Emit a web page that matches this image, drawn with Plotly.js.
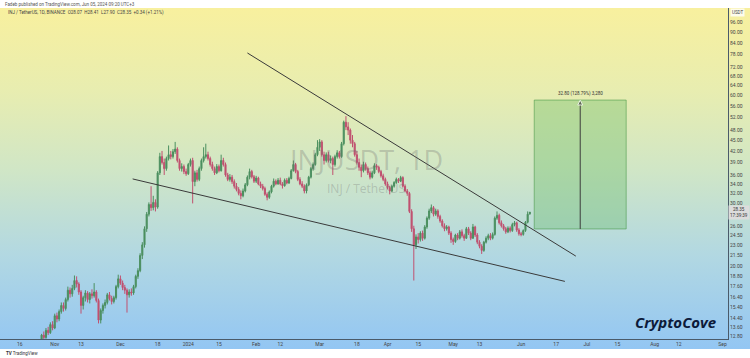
<!DOCTYPE html>
<html><head><meta charset="utf-8">
<script src="https://cdn.plot.ly/plotly-3.0.1.min.js"></script>
<style>
html,body{margin:0;padding:0;background:#fff;}
#chart{width:750px;height:358px;background:linear-gradient(to bottom,#ffffff 0px,#ffffff 8px,#f8f09e 8px,#e8edb0 90px,#d0e6c6 170px,#b2d8e2 255px,#93c6f3 349px,#ffffff 349px);}
</style></head><body><div id="chart"></div><script>
// Daily INJ/USDT candles, first candle on 2023-10-26, one per day
const firstDay = [2023, 9, 26];
const openP = [12.4,12.9,12.7,13.3,13.1,13.8,
13.5,14.6,14.3,15.0,15.6,15.3,16.2,17.2,16.8,17.4,18.3,17.9,17.0,15.6,16.4,16.9,16.2,16.8,16.6,17.0,
16.1,14.2,15.1,15.6,15.9,16.7,16.3,16.0,16.4,17.6,18.5,18.0,17.5,17.2,16.7,17.0,16.9,17.6,18.8,19.5,
21.5,23.0,25.5,28.0,29.8,29.2,30.2,29.3,36.5,40.5,39.0,37.5,40.0,41.0,40.5,41.8,42.5,39.5,37.5,38.0,
36.8,36.3,38.5,39.5,34.5,36.5,35.0,37.5,39.5,40.5,41.0,40.0,38.5,37.5,36.5,38.0,37.0,39.5,38.5,36.0,
35.0,35.5,34.5,33.5,32.8,32.0,31.5,32.5,33.8,35.5,36.8,35.6,34.6,35.3,34.0,33.5,33.0,31.8,31.2,32.3,
33.5,34.6,34.0,34.8,34.0,33.6,34.8,34.2,35.2,37.0,38.5,36.8,35.0,34.0,33.5,32.5,33.8,35.5,37.5,38.5,
41.0,43.0,44.5,41.0,39.5,41.0,39.5,40.0,38.5,40.5,41.5,40.5,44.0,50.5,49.0,48.0,45.0,44.0,41.0,39.0,
37.8,37.0,38.5,37.5,36.5,35.5,36.5,38.2,37.8,36.8,35.8,35.0,34.0,33.2,32.5,33.5,34.3,35.0,34.6,35.4,
33.5,32.5,32.0,28.5,25.5,23.0,24.2,23.8,24.8,24.0,25.8,27.3,28.6,29.2,28.0,28.6,27.6,26.8,26.0,25.5,
25.8,24.8,23.8,23.5,24.5,24.0,25.0,24.4,24.0,25.5,24.8,24.0,25.8,24.5,23.4,22.8,22.2,23.4,24.0,24.4,
24.0,24.6,27.3,27.8,26.5,26.0,25.5,25.0,25.6,25.2,26.2,26.5,25.3,24.7,24.6,25.2,26.6,28.07];
const highP = [13.0,13.2,13.5,13.6,14.0,14.1,
14.8,14.9,15.2,15.9,15.9,16.4,17.6,17.5,17.8,18.9,18.8,18.1,17.2,16.6,17.2,17.1,17.0,17.3,18.0,17.2,
16.3,15.3,15.8,16.2,16.9,17.0,16.6,16.6,17.8,19.0,18.9,18.3,17.8,17.4,17.3,17.4,17.8,19.0,19.8,21.8,
23.4,25.9,28.4,30.2,33.5,31.5,30.8,36.9,41.5,42.0,40.0,40.5,43.5,42.0,42.5,44.5,43.0,40.0,38.8,38.5,
37.5,38.9,40.0,40.2,37.0,37.2,38.0,40.0,43.0,44.0,41.8,40.5,39.2,38.0,38.6,38.5,41.0,40.2,39.0,36.5,
36.2,36.0,35.0,34.2,33.3,32.6,33.0,34.2,35.9,37.5,37.2,36.0,35.8,35.6,34.5,34.0,33.4,32.2,32.6,33.8,
35.2,35.0,35.3,35.4,34.4,35.2,35.3,35.6,37.4,39.5,38.9,37.2,35.5,34.6,33.9,34.1,35.8,37.9,39.0,41.5,
45.0,45.3,45.0,41.8,41.6,41.8,40.8,40.5,41.0,42.2,42.0,44.5,51.0,52.5,50.5,48.5,46.5,44.5,42.0,40.0,
38.5,39.2,39.0,38.0,37.0,37.0,38.8,38.6,38.2,37.2,36.3,35.4,34.5,33.6,33.8,34.6,35.4,35.3,35.8,35.7,
33.9,32.9,32.3,28.9,26.0,24.6,24.8,25.1,25.2,26.1,27.6,29.0,29.8,29.5,29.0,28.9,27.9,27.1,26.4,26.1,
26.0,25.1,24.1,24.7,24.8,25.3,25.4,24.7,25.8,25.8,25.1,26.3,26.0,24.8,23.7,23.1,23.6,24.3,24.7,24.8,
24.9,27.6,28.5,28.1,26.9,26.3,25.8,25.9,25.9,26.5,26.8,26.7,25.6,25.0,25.4,26.8,28.5,28.41];
const lowP = [12.2,12.5,12.6,12.9,13.0,13.3,
13.4,14.0,14.1,14.8,15.0,15.1,16.0,16.4,16.5,17.2,17.5,16.7,14.8,15.2,16.0,15.9,15.8,16.3,16.4,15.9,
13.9,13.9,14.8,15.3,15.7,16.1,15.7,15.8,16.2,17.4,17.8,17.2,16.8,14.9,16.4,16.6,16.7,17.4,18.5,19.3,
21.0,22.6,25.0,27.6,28.6,28.7,28.5,29.0,36.0,38.5,36.0,37.0,39.5,39.8,40.0,41.2,39.0,37.0,36.8,36.2,
35.8,36.0,38.0,30.0,33.5,34.5,34.6,37.0,39.0,40.0,39.5,38.0,37.0,36.0,36.2,36.6,36.8,38.0,35.6,34.6,
34.5,34.0,33.0,32.4,31.6,30.8,31.2,32.2,33.5,35.0,35.2,34.2,34.2,33.7,33.1,32.6,31.5,30.6,30.9,32.0,
33.2,33.7,33.8,33.7,33.0,33.4,33.9,34.0,35.0,36.8,36.4,34.6,33.7,33.1,32.0,32.0,33.5,35.2,37.0,38.2,
40.6,42.0,40.5,38.5,39.0,39.0,38.8,36.0,38.0,40.0,40.0,40.2,43.5,48.0,46.5,44.0,43.0,40.5,38.5,37.0,
35.5,36.6,37.0,36.0,35.0,35.2,36.2,37.2,36.4,35.4,34.6,33.6,32.8,31.8,32.2,33.2,34.0,34.2,34.4,33.2,
32.2,31.5,28.2,25.0,18.3,22.4,23.2,23.5,23.6,23.8,25.5,27.0,28.2,27.6,27.7,27.2,26.5,25.7,25.1,25.2,
24.5,23.3,23.0,23.3,23.7,23.8,24.1,23.6,23.9,24.5,23.7,23.9,24.2,23.1,22.5,21.7,22.0,23.2,23.7,23.7,
23.8,24.4,27.0,26.2,25.7,25.2,24.7,24.8,24.9,25.0,25.9,25.0,24.4,24.3,24.4,25.0,26.4,27.90];
const closeP = [12.9,12.7,13.3,13.1,13.8,13.5,
14.6,14.3,15.0,15.6,15.3,16.2,17.2,16.8,17.4,18.3,17.9,17.0,15.6,16.4,16.9,16.2,16.8,16.6,17.0,16.1,
14.2,15.1,15.6,15.9,16.7,16.3,16.0,16.4,17.6,18.5,18.0,17.5,17.2,16.7,17.0,16.9,17.6,18.8,19.5,21.5,
23.0,25.5,28.0,29.8,29.2,30.2,29.3,36.5,40.5,39.0,37.5,40.0,41.0,40.5,41.8,42.5,39.5,37.5,38.0,36.8,
36.3,38.5,39.5,34.5,36.5,35.0,37.5,39.5,40.5,41.0,40.0,38.5,37.5,36.5,38.0,37.0,39.5,38.5,36.0,35.0,
35.5,34.5,33.5,32.8,32.0,31.5,32.5,33.8,35.5,36.8,35.6,34.6,35.3,34.0,33.5,33.0,31.8,31.2,32.3,33.5,
34.6,34.0,34.8,34.0,33.6,34.8,34.2,35.2,37.0,38.5,36.8,35.0,34.0,33.5,32.5,33.8,35.5,37.5,38.5,41.0,
43.0,44.5,41.0,39.5,41.0,39.5,40.0,38.5,40.5,41.5,40.5,44.0,50.5,49.0,48.0,45.0,44.0,41.0,39.0,37.8,
37.0,38.5,37.5,36.5,35.5,36.5,38.2,37.8,36.8,35.8,35.0,34.0,33.2,32.5,33.5,34.3,35.0,34.6,35.4,33.5,
32.5,32.0,28.5,25.5,23.0,24.2,23.8,24.8,24.0,25.8,27.3,28.6,29.2,28.0,28.6,27.6,26.8,26.0,25.5,25.8,
24.8,23.8,23.5,24.5,24.0,25.0,24.4,24.0,25.5,24.8,24.0,25.8,24.5,23.4,22.8,22.2,23.4,24.0,24.4,24.0,
24.6,27.3,27.8,26.5,26.0,25.5,25.0,25.6,25.2,26.2,26.5,25.3,24.7,24.6,25.2,26.6,28.0,28.35];

// Drawings
const upperLineDates = ['2024-01-28', '2024-06-26'];
const upperLinePrices = [78.7, 21.4];
const lowerLineDates = ['2023-12-06 14:00', '2024-06-21'];
const lowerLinePrices = [35.1, 18.2];
const targetDates = ['2024-06-07', '2024-07-19'];
const targetPrices = [25.47, 58.2];
const targetMidDate = '2024-06-28';
const targetLabel = '32.80 (128.79%) 3,280';

// Axes
const xTickDates = ['2023-10-16','2023-11-01','2023-11-13','2023-12-01','2023-12-18','2024-01-01','2024-01-15','2024-02-01','2024-02-12','2024-03-01','2024-03-18','2024-04-01','2024-04-15','2024-05-01','2024-05-13','2024-06-01','2024-06-17','2024-07-01','2024-07-15','2024-08-01','2024-08-12','2024-09-01'];
const xTickLabels = ['16','Nov','13','Dec','18','2024','15','Feb','12','Mar','18','Apr','15','May','13','Jun','17','Jul','15','Aug','12','Sep'];
const yTickValues = [96,90,84,78,72,68,64,60,56,52,48,45,42,39,36,34,32,30,26,24.5,23,21.5,20,18.8,17.6,16.4,15.4,14.4,13.6,12.8];
const lastPrice = 28.35;

const dates = openP.map((_, i) => new Date(Date.UTC(firstDay[0], firstDay[1], firstDay[2] + i)).toISOString().slice(0, 10));

const traces = [
  {type:'candlestick', x:dates, open:openP, high:highP, low:lowP, close:closeP,
   increasing:{line:{color:'#4b8f5f', width:1}, fillcolor:'#4b8f5f'},
   decreasing:{line:{color:'#c0506f', width:1}, fillcolor:'#c0506f'},
   whiskerwidth:0, hoverinfo:'none'},
  {type:'scatter', mode:'lines', x:upperLineDates, y:upperLinePrices, line:{color:'#3a3a3a', width:1}, hoverinfo:'none'},
  {type:'scatter', mode:'lines', x:lowerLineDates, y:lowerLinePrices, line:{color:'#3a3a3a', width:1}, hoverinfo:'none'},
  {type:'scatter', mode:'lines', x:[targetDates[0], targetDates[1], targetDates[1], targetDates[0], targetDates[0]],
   y:[targetPrices[0], targetPrices[0], targetPrices[1], targetPrices[1], targetPrices[0]],
   fill:'toself', fillcolor:'rgba(90,180,90,0.32)', line:{color:'rgba(70,150,70,0.55)', width:1}, hoverinfo:'none'},
  {type:'scatter', mode:'lines+markers', x:[targetMidDate, targetMidDate], y:targetPrices,
   line:{color:'#3a3a3a', width:1}, marker:{symbol:['circle','arrow-up'], size:[0,5], color:'#3a3a3a'}, hoverinfo:'none'}
];

const plotH = 358 - 8 - 19;
const layout = {
  width:750, height:358,
  margin:{l:0, r:22, t:8, b:19, pad:0},
  paper_bgcolor:'rgba(0,0,0,0)', plot_bgcolor:'rgba(0,0,0,0)',
  showlegend:false,
  font:{family:'Roboto, "Open Sans", sans-serif'},
  xaxis:{type:'date', range:['2023-10-07', '2024-09-03 12:00'], rangeslider:{visible:false},
    tickmode:'array', tickvals:xTickDates, ticktext:xTickLabels, tickfont:{size:5, color:'#444'},
    showgrid:false, zeroline:false, showline:true, linecolor:'#4a5a6a', linewidth:1, ticks:'', fixedrange:true},
  yaxis:{type:'log', side:'right', range:[Math.log10(12.58), Math.log10(105)],
    tickmode:'array', tickvals:yTickValues, ticktext:yTickValues.map(v => v.toFixed(2)), tickfont:{size:5, color:'#444'},
    showgrid:false, zeroline:false, showline:true, linecolor:'#4a5a6a', linewidth:1, ticks:'', fixedrange:true},
  annotations:[
    {xref:'paper', yref:'paper', x:0.004, y:1 + 4/plotH, xanchor:'left', yanchor:'middle', showarrow:false,
     text:'Fadeb published on TradingView.com, Jun 05, 2024 09:20 UTC+3', font:{size:4.5, color:'#555'}},
    {xref:'paper', yref:'paper', x:0.008, y:1 - 5/plotH, xanchor:'left', yanchor:'middle', showarrow:false,
     text:'INJ / TetherUS, 1D, BINANCE  O28.07  H28.41  L27.90  C28.35  +0.34 (+1.21%)', font:{size:4.5, color:'#444'}},
    {xref:'paper', yref:'paper', x:366/728, y:1 - 152/plotH, xanchor:'center', yanchor:'middle', showarrow:false,
     text:'INJUSDT, 1D', font:{size:27, color:'rgba(110,110,110,0.3)', family:'"Open Sans", sans-serif'}},
    {xref:'paper', yref:'paper', x:366/728, y:1 - 180/plotH, xanchor:'center', yanchor:'middle', showarrow:false,
     text:'INJ / TetherUS', font:{size:12, color:'rgba(110,110,110,0.3)', family:'"Open Sans", sans-serif'}},
    {xref:'paper', yref:'paper', x:675/728, y:1 - 314/plotH, xanchor:'center', yanchor:'middle', showarrow:false,
     text:'<b><i>CryptoCove</i></b>', font:{size:15, color:'#0c1a3a', family:'"Open Sans", sans-serif'}},
    {xref:'paper', yref:'y', x:1, y:Math.log10(lastPrice), xanchor:'left', yanchor:'middle', showarrow:false,
     text:lastPrice.toFixed(2) + '<br>17:39:39', bgcolor:'#dcdcdc', borderpad:1, font:{size:4.5, color:'#333'}},
    {xref:'paper', yref:'paper', x:1.003, y:1 - 5/plotH, xanchor:'left', yanchor:'middle', showarrow:false,
     text:'USDT', bgcolor:'rgba(255,255,255,0.8)', borderpad:1, font:{size:4.5, color:'#444'}},
    {xref:'paper', yref:'paper', x:0.006, y:-14/plotH, xanchor:'left', yanchor:'middle', showarrow:false,
     text:'<b>TV</b> TradingView', font:{size:4.5, color:'#333'}},
    {xref:'x', yref:'y', x:targetMidDate, y:Math.log10(targetPrices[1]), yshift:7, xanchor:'center', yanchor:'middle', showarrow:false,
     text:targetLabel, font:{size:4.5, color:'#333'}}
  ]
};

Plotly.newPlot('chart', traces, layout, {staticPlot:true, displayModeBar:false});
</script></body></html>
